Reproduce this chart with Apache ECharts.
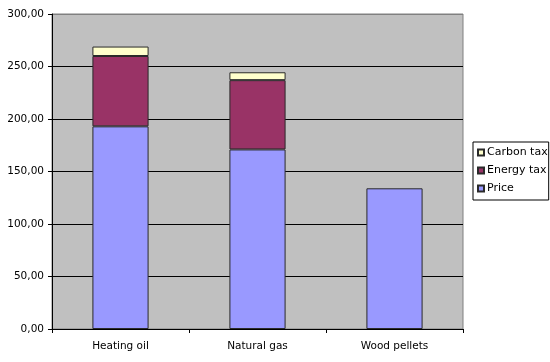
<!DOCTYPE html>
<html><head><meta charset="utf-8">
<script src="https://cdn.jsdelivr.net/npm/echarts@6/dist/echarts.min.js"></script>
<style>html,body{margin:0;padding:0;background:#fff}#c{width:550px;height:362px}</style>
</head><body><div id="c"></div>
<script>
const categories = ['Heating oil', 'Natural gas', 'Wood pellets'];
const price = [193, 171, 134];
const energyTax = [67, 66, null];
const carbonTax = [9, 7.5, null];
const yTicks = { min: 0, max: 300, interval: 50 };

const font = 'DejaVu Sans';
const chart = echarts.init(document.getElementById('c'), null, { renderer: 'canvas' });
const barStyle = c => ({ color: c, borderColor: '#2a2a2a', borderWidth: 1 });
chart.setOption({
  animation: false,
  grid: { left: 52, right: 87, top: 14, bottom: 33, show: true, backgroundColor: '#C0C0C0', borderColor: '#808080', borderWidth: 1 },
  legend: {
    orient: 'vertical', left: 473, top: 142, data: ['Carbon tax', 'Energy tax', 'Price'],
    backgroundColor: '#fff', borderColor: '#000', borderWidth: 1, padding: [5, 1, 6, 4],
    itemWidth: 6, itemHeight: 6, itemGap: 7, icon: 'rect',
    textStyle: { fontFamily: font, fontSize: 11, color: '#000', padding: [0, 0, 0, -2] }
  },
  xAxis: {
    type: 'category', data: categories,
    axisLine: { lineStyle: { color: '#000', width: 1 } },
    axisTick: { show: true, length: 4, alignWithLabel: false, lineStyle: { color: '#000' } },
    axisLabel: { fontFamily: font, fontSize: 10.5, color: '#000', margin: 12 }
  },
  yAxis: {
    type: 'value', min: yTicks.min, max: yTicks.max, interval: yTicks.interval,
    axisLine: { show: true, lineStyle: { color: '#000', width: 1 } },
    axisTick: { show: true, length: 4, lineStyle: { color: '#000' } },
    splitLine: { lineStyle: { color: ['#000', '#000', '#000', '#000', '#000', '#000', '#808080'], width: 1 } },
    axisLabel: { fontFamily: font, fontSize: 10.5, color: '#000', margin: 8,
      formatter: v => v.toFixed(2).replace('.', ',') }
  },
  series: [
    { name: 'Price', type: 'bar', stack: 's', data: price, barWidth: '41%', itemStyle: barStyle('#9999FF') },
    { name: 'Energy tax', type: 'bar', stack: 's', data: energyTax, itemStyle: barStyle('#993366') },
    { name: 'Carbon tax', type: 'bar', stack: 's', data: carbonTax, itemStyle: barStyle('#FFFFCC') }
  ]
});
</script></body></html>
